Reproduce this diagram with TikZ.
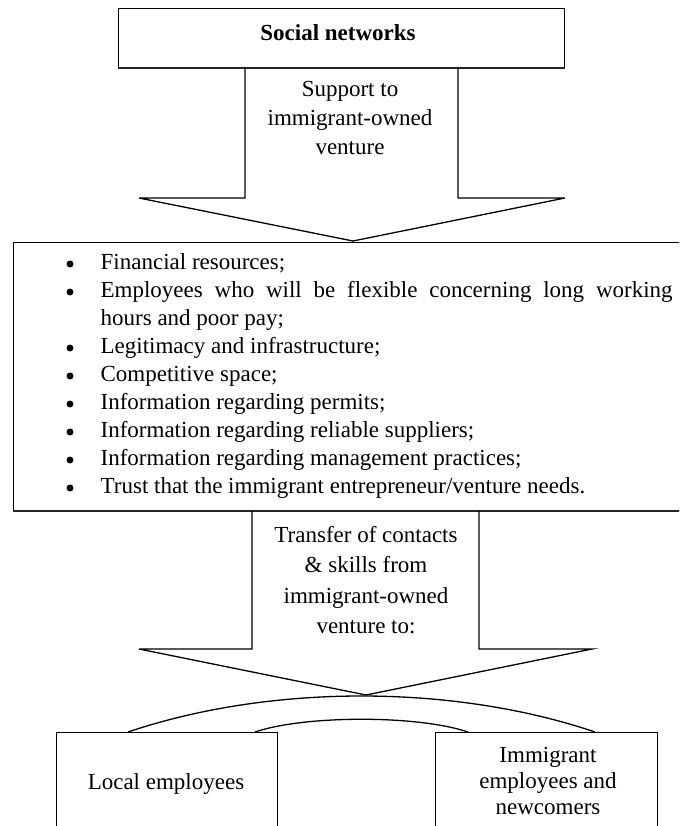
\documentclass[tikz,border=0pt]{standalone}
\usepackage{fontspec}
\setmainfont{Liberation Serif}
\begin{document}
\begin{tikzpicture}[x=1pt,y=-1pt, line width=1.3pt, line join=miter,
  box/.style={draw, rectangle, inner sep=0pt},
  txt/.style={inner sep=0pt, anchor=base, font=\fontsize{23}{28}\selectfont},
  itemtxt/.style={inner sep=0pt, anchor=base west, font=\fontsize{23}{28}\selectfont},
  bul/.style={circle, fill=black, draw=none, inner sep=0pt, minimum size=7pt},
  heavy/.style={line width=2pt, draw=black!85},
]
\useasboundingbox (0,0) rectangle (679,826);
\clip (0,0) rectangle (679,826);
\fill[white] (0,0) rectangle (679,826);

% top box
\node[box, minimum width=446pt, minimum height=59pt] (social) at (341.5,38) {};
\draw[heavy] (social.south west) -- (social.south east);
\node[txt, font=\bfseries\fontsize{23}{28}\selectfont] (socialt) at (338,41) {Social networks};

% arrow 1
\draw (245,67.5) coordinate (s1l) -- (245,198) -- (139,198) -- (353,241) coordinate (tip1) -- (565,198) -- (458,198) -- (458,67.5) coordinate (s1r);
\node[txt] (sup1) at (350,97) {Support to};
\node[txt] (sup2) at (350,126) {immigrant-owned};
\node[txt] (sup3) at (350,155) {venture};

% list box
\node[box, anchor=north west, minimum width=720pt, minimum height=268pt] (needs) at (13,242) {};
\draw[heavy] (needs.south west) -- (needs.south east);
\foreach \yy/\nm in {269/b1,297/b2,353/b3,381/b4,409/b5,437/b6,465/b7,493/b8}{
  \node[bul] (\nm) at (70,\yy-5) {};
}
\node[itemtxt] (i1) at (100,269) {Financial resources;};
\node[itemtxt] (i2) at (100,297) {\makebox[572pt][s]{Employees who will be flexible concerning long working}};
\node[itemtxt] (i2b) at (100,325) {hours and poor pay;};
\node[itemtxt] (i3) at (100,353) {Legitimacy and infrastructure;};
\node[itemtxt] (i4) at (100,381) {Competitive space;};
\node[itemtxt] (i5) at (100,409) {Information regarding permits;};
\node[itemtxt] (i6) at (100,437) {Information regarding reliable suppliers;};
\node[itemtxt] (i7) at (100,465) {Information regarding management practices;};
\node[itemtxt] (i8) at (100,493) {Trust that the immigrant entrepreneur/venture needs.};

% arrow 2
\draw (252,511) coordinate (s2l) -- (252,649) -- (139,649) -- (366,695) coordinate (tip2) -- (592,649) -- (479,649) -- (479,511) coordinate (s2r);
\node[txt] (tr1) at (366,542) {Transfer of contacts};
\node[txt] (tr2) at (366,572) {\& skills from};
\node[txt] (tr3) at (366,603) {immigrant-owned};
\node[txt] (tr4) at (366,633) {venture to:};

% bottom boxes
\node[box, anchor=north west, minimum width=221pt, minimum height=130pt] (local) at (56,732) {};
\node[box, anchor=north west, minimum width=222pt, minimum height=130pt] (immig) at (435,732) {};
\node[txt] (localt) at (166,789) {Local employees};
\node[txt] (im1) at (548,762) {Immigrant};
\node[txt] (im2) at (548,788) {employees and};
\node[txt] (im3) at (548,814) {newcomers};

% arcs
\coordinate (oa) at (128,732);
\coordinate (ob) at (595,732);
\coordinate (ia) at (255,732);
\coordinate (ib) at (468,732);
\draw (oa) .. controls (270,684) and (453,684) .. (ob);
\draw (ia) .. controls (305,715) and (418,715) .. (ib);
\end{tikzpicture}
\end{document}
